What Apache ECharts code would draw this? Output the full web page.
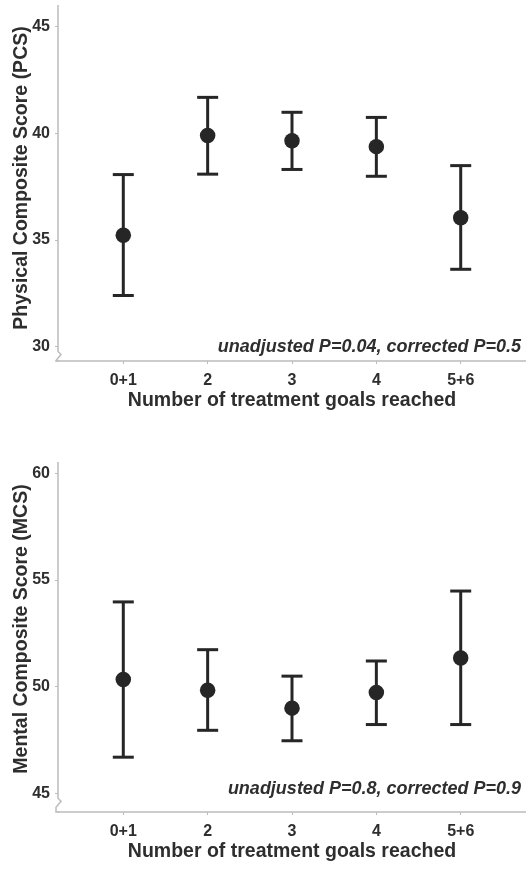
<!DOCTYPE html>
<html><head><meta charset="utf-8">
<script src="https://cdn.jsdelivr.net/npm/echarts@6/dist/echarts.min.js"></script>
<style>html,body{margin:0;padding:0;background:#fff}#c{width:526px;height:869px}</style>
</head><body><div id="c"></div>
<script>
const categories = ['0+1', '2', '3', '4', '5+6'];
const pcsMean = [35.22, 39.89, 39.65, 39.37, 36.04];
const pcsLow  = [32.39, 38.08, 38.30, 37.98, 33.62];
const pcsHigh = [38.06, 41.68, 40.98, 40.74, 38.48];
const mcsMean = [50.33, 49.83, 48.99, 49.72, 51.34];
const mcsLow  = [46.69, 47.95, 47.46, 48.22, 48.22];
const mcsHigh = [53.97, 51.73, 50.49, 51.20, 54.48];
const pcsTicks = [30, 35, 40, 45];
const mcsTicks = [45, 50, 55, 60];
const xTicks = [0, 1, 2, 3, 4];
const pcsNote = 'unadjusted P=0.04, corrected P=0.5';
const mcsNote = 'unadjusted P=0.8, corrected P=0.9';

const FONT = '"Liberation Sans", Arial, sans-serif';
const TXT = '#2e2e2e';
const MARK = '#262626';
const AX = '#bcbcbc';
const PCS_RANGE = [29.32, 46.01];
const MCS_RANGE = [44.12, 60.53];
const X_RANGE = [-0.774, 4.774];

const chart = echarts.init(document.getElementById('c'), null, {renderer: 'canvas'});

function xAxisCfg(gi) {
  return {
    type: 'value', gridIndex: gi, min: X_RANGE[0], max: X_RANGE[1],
    name: 'Number of treatment goals reached', nameLocation: 'middle', nameGap: 30,
    nameMoveOverlap: false,
    nameTextStyle: {fontFamily: FONT, fontWeight: 'bold', fontSize: 19.5, color: TXT},
    axisLine: {show: true, onZero: false, lineStyle: {color: AX, width: 1.5}},
    axisTick: {show: true, length: 3, lineStyle: {color: AX, width: 1}, customValues: xTicks},
    axisLabel: {fontFamily: FONT, fontWeight: 'bold', fontSize: 16, color: TXT, margin: 12,
      customValues: xTicks, formatter: v => categories[Math.round(v)]},
    splitLine: {show: false}
  };
}
function yAxisCfg(gi, name, range, ticks, shift) {
  return {
    type: 'value', gridIndex: gi, min: range[0], max: range[1],
    name: name, nameLocation: 'middle', nameGap: 26, nameRotate: 90,
    nameMoveOverlap: false,
    nameTextStyle: {fontFamily: FONT, fontWeight: 'bold', fontSize: 19.5, color: TXT,
      padding: [0, 0, 0, shift]},
    axisLine: {show: false, onZero: false},
    axisTick: {show: true, length: 3, lineStyle: {color: AX, width: 1}, customValues: ticks},
    axisLabel: {fontFamily: FONT, fontWeight: 'bold', fontSize: 16, color: TXT, margin: 8,
      customValues: ticks},
    splitLine: {show: false}
  };
}
function errSeries(gi, low, high) {
  return {
    type: 'custom', xAxisIndex: gi, yAxisIndex: gi,
    data: low.map((l, i) => [i, l, high[i]]),
    renderItem: function (params, api) {
      const lo = api.coord([api.value(0), api.value(1)]);
      const hi = api.coord([api.value(0), api.value(2)]);
      const hw = 10.5;
      const st = {stroke: MARK, lineWidth: 3};
      return {type: 'group', children: [
        {type: 'line', shape: {x1: lo[0], y1: lo[1], x2: hi[0], y2: hi[1]}, style: st},
        {type: 'line', shape: {x1: lo[0] - hw, y1: lo[1], x2: lo[0] + hw, y2: lo[1]}, style: st},
        {type: 'line', shape: {x1: hi[0] - hw, y1: hi[1], x2: hi[0] + hw, y2: hi[1]}, style: st}
      ]};
    },
    z: 2, silent: true
  };
}
function meanSeries(gi, mean) {
  return {
    type: 'scatter', xAxisIndex: gi, yAxisIndex: gi,
    data: mean.map((m, i) => [i, m]),
    symbol: 'circle', symbolSize: 15.5,
    itemStyle: {color: MARK, opacity: 1},
    z: 3, silent: true
  };
}

chart.setOption({
  animation: false,
  backgroundColor: '#fff',
  grid: [
    {left: 58, right: 0, top: 5, height: 356, containLabel: false, outerBoundsMode: 'none'},
    {left: 58, right: 0, top: 462, height: 350, containLabel: false, outerBoundsMode: 'none'}
  ],
  xAxis: [xAxisCfg(0), xAxisCfg(1)],
  yAxis: [
    yAxisCfg(0, 'Physical Composite Score (PCS)', PCS_RANGE, pcsTicks, 10),
    yAxisCfg(1, 'Mental Composite Score (MCS)', MCS_RANGE, mcsTicks, 16)
  ],
  series: [
    errSeries(0, pcsLow, pcsHigh), meanSeries(0, pcsMean),
    errSeries(1, mcsLow, mcsHigh), meanSeries(1, mcsMean)
  ]
});

function axisWithBreak(gi, range, firstTick) {
  const f = {xAxisIndex: gi, yAxisIndex: gi};
  const top = chart.convertToPixel(f, [X_RANGE[0], range[1]]);
  const bot = chart.convertToPixel(f, [X_RANGE[0], range[0]]);
  const t = chart.convertToPixel(f, [X_RANGE[0], firstTick]);
  const X = top[0];
  const yb = t[1] + 5;
  return {
    type: 'polyline', silent: true,
    shape: {points: [[X, top[1]], [X, yb], [X + 3, yb + 3], [X - 2, yb + 9], [X - 2, bot[1]], [X + 1, bot[1]]]},
    style: {stroke: AX, lineWidth: 1.5, fill: null}
  };
}
function note(gi, text, range, offset) {
  const p = chart.convertToPixel({xAxisIndex: gi, yAxisIndex: gi}, [X_RANGE[1], range[0]]);
  return {
    type: 'text', silent: true, x: p[0] - 5, y: p[1] - offset,
    style: {text: text, align: 'right', verticalAlign: 'middle', fill: TXT,
      font: 'italic bold 18px ' + FONT}
  };
}
chart.setOption({
  graphic: [
    axisWithBreak(0, PCS_RANGE, 30),
    axisWithBreak(1, MCS_RANGE, 45),
    note(0, pcsNote, PCS_RANGE, 14),
    note(1, mcsNote, MCS_RANGE, 23)
  ]
});
</script></body></html>
